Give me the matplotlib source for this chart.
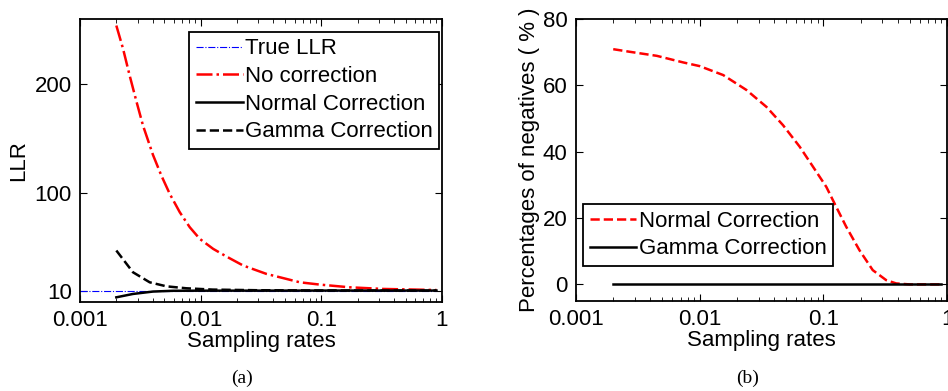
import matplotlib
matplotlib.use("Agg")
import matplotlib.pyplot as plt
from matplotlib.ticker import FixedLocator, LogLocator, NullFormatter

plt.rcParams['font.family'] = ['Liberation Sans', 'DejaVu Sans']
plt.rcParams['font.size'] = 16

# ---- data (a) ----
true_x = [0.001, 0.9]
true_llr = [10, 10]
nocorr_x = [0.002, 0.00227, 0.00258, 0.00294, 0.00333, 0.00403, 0.00473, 0.00554,
            0.00671, 0.00812, 0.00983, 0.0127, 0.0164, 0.0225, 0.0351, 0.0514,
            0.0663, 0.097, 0.172, 0.325, 0.9]
nocorr_y = [254, 233, 208, 184, 162, 135, 116, 99.4,
            82.5, 68.7, 58, 48.8, 41.7, 33.5, 25.8, 21.2,
            18.1, 16, 13.5, 12, 11]
normal_x = [0.002, 0.00275, 0.00403, 0.0059, 0.01, 0.1, 0.9]
normal_y = [4.3, 7.4, 9.6, 10.3, 10.4, 10.5, 10.5]
gamma_x = [0.002, 0.00275, 0.00378, 0.0052, 0.00762, 0.0126, 0.03, 0.1, 0.9]
gamma_y = [47.3, 27.3, 18.1, 14.4, 12.6, 11.4, 10.8, 10.6, 10.5]

# ---- data (b) ----
neg_normal_x = [0.002, 0.00274, 0.0045, 0.00738, 0.01, 0.0155, 0.0239, 0.0347, 0.0472,
                0.0644, 0.0824, 0.1057, 0.127, 0.153, 0.196, 0.251, 0.322, 0.388, 0.5, 0.9]
neg_normal_y = [70.9, 70.1, 68.9, 66.9, 65.8, 63.1, 58.6, 53.5, 48,
                41.5, 35.5, 29.4, 23.4, 17.4, 10.3, 4.3, 1.3, 0.3, 0, 0]
neg_gamma_x = [0.002, 0.9]
neg_gamma_y = [0, 0]

xticks = [0.001, 0.01, 0.1, 1]
xticklabels = ['0.001', '0.01', '0.1', '1']
yticks_a = [10, 100, 200]
yticks_b = [0, 20, 40, 60, 80]

W, H = 948, 391
fig = plt.figure(figsize=(W / 100, H / 100), dpi=100)

def px_axes(x0, y0, x1, y1):
    return fig.add_axes([x0 / W, 1 - y1 / H, (x1 - x0) / W, (y1 - y0) / H])

def style(ax):
    ax.set_xscale('log')
    ax.set_xlim(0.001, 1)
    ax.xaxis.set_major_locator(FixedLocator(xticks))
    ax.set_xticklabels(xticklabels)
    ax.xaxis.set_minor_locator(LogLocator(base=10, subs=range(2, 10)))
    ax.xaxis.set_minor_formatter(NullFormatter())
    ax.tick_params(which='both', direction='in', top=True, right=True)
    ax.tick_params(which='major', length=5, width=0.8, pad=6)
    ax.tick_params(which='minor', length=3, width=0.6)
    for s in ax.spines.values():
        s.set_linewidth(1.3)
    ax.set_xlabel('Sampling rates', labelpad=0)

# (a)
ax1 = px_axes(80, 19, 442, 302)
ax1.plot(true_x, true_llr, color='blue', linestyle='-.', linewidth=0.8, label='True LLR')
ax1.plot(nocorr_x, nocorr_y, color='red', linestyle='-.', linewidth=1.8, label='No correction')
ax1.plot(normal_x, normal_y, color='black', linestyle='-', linewidth=1.8, label='Normal Correction')
ax1.plot(gamma_x, gamma_y, color='black', linestyle='--', linewidth=1.8, label='Gamma Correction')
style(ax1)
ax1.set_ylim(0, 260)
ax1.set_yticks(yticks_a)
ax1.set_ylabel('LLR', labelpad=4)
leg1 = ax1.legend(loc='upper right', bbox_to_anchor=(0.993, 0.955), fancybox=False,
                  edgecolor='black', framealpha=1, handlelength=2.1, handletextpad=0.1,
                  labelspacing=0.3, borderpad=0.3, borderaxespad=0)
leg1.get_frame().set_linewidth(1.3)

# (b)
ax2 = px_axes(576, 19, 947, 301)
ax2.plot(neg_normal_x, neg_normal_y, color='red', linestyle='--', linewidth=1.8, label='Normal Correction')
ax2.plot(neg_gamma_x, neg_gamma_y, color='black', linestyle='-', linewidth=1.8, label='Gamma Correction')
style(ax2)
ax2.set_ylim(-5, 80)
ax2.set_yticks(yticks_b)
ax2.set_ylabel('Percentages of negatives ( % )', labelpad=2)
leg2 = ax2.legend(loc='lower left', bbox_to_anchor=(0.019, 0.124), fancybox=False,
                  edgecolor='black', framealpha=1, handlelength=2.1, handletextpad=0.1,
                  labelspacing=0.3, borderpad=0.3, borderaxespad=0)
leg2.get_frame().set_linewidth(1.3)

fig.text(242 / W, 1 - 378 / H, '(a)', family=['Liberation Serif', 'DejaVu Serif'],
         fontsize=14, ha='center', va='center')
fig.text(748 / W, 1 - 378 / H, '(b)', family=['Liberation Serif', 'DejaVu Serif'],
         fontsize=14, ha='center', va='center')

fig.savefig('out.png', dpi=100)
